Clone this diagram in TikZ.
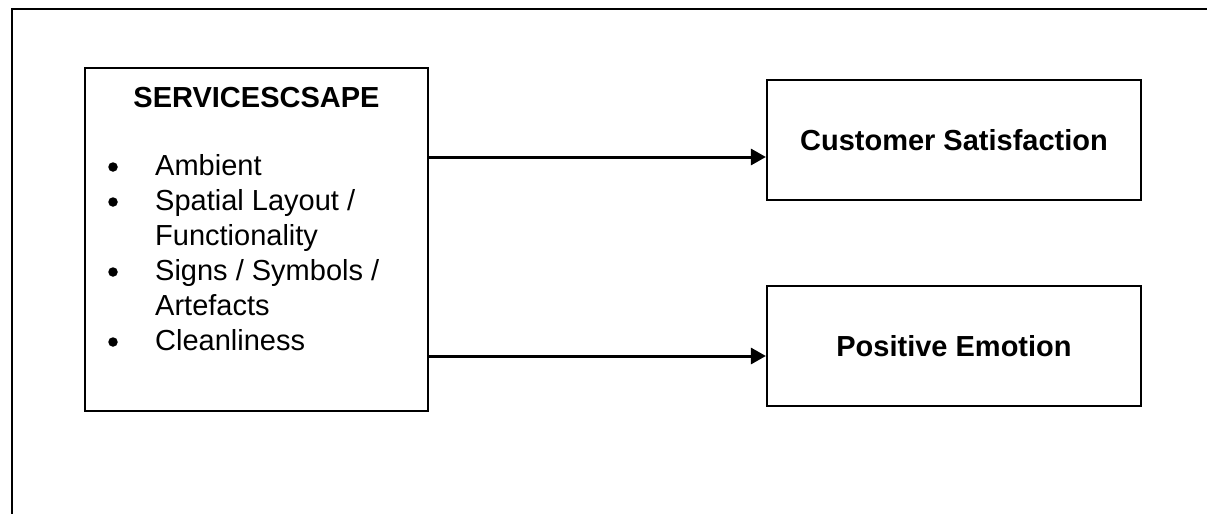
\documentclass[tikz,border=0pt]{standalone}
\usepackage{fontspec}
\setmainfont{Liberation Sans}
\usetikzlibrary{arrows.meta}
\begin{document}
\begin{tikzpicture}[x=1pt,y=-1pt,
  frame/.style={line width=2.4pt},
  boxstyle/.style={draw,line width=2.2pt,inner sep=0pt},
  conn/.style={line width=3pt,-{Triangle[length=15pt,width=16pt]}},
  txt/.style={font=\fontsize{29}{35}\selectfont,inner sep=0pt,anchor=base west},
  bul/.style={circle,fill,inner sep=0pt,minimum size=9.5pt}
]
\useasboundingbox (0,0) rectangle (1207,514);
% outer frame (top and left edges only)
\coordinate (ftr) at (1207,9);
\coordinate (ftl) at (12,9);
\coordinate (fbl) at (12,514);
\draw[frame] (ftr) -- (ftl) -- (fbl);

% left box
\node[boxstyle,minimum width=343pt,minimum height=343pt] (svc) at (256.5,239.5) {};
\node[font=\fontsize{29}{35}\selectfont\bfseries,inner sep=0pt,anchor=base] (svct) at (256.5,107) {SERVICESCSAPE};

\node[bul] (b1) at (113,167) {};
\node[txt] (t1) at (155,175) {Ambient};
\node[bul] (b2) at (113,202) {};
\node[txt] (t2) at (155,210) {Spatial Layout /};
\node[txt] (t2b) at (155,245) {Functionality};
\node[bul] (b3) at (113,272) {};
\node[txt] (t3) at (155,280) {Signs / Symbols /};
\node[txt] (t3b) at (155,315) {Artefacts};
\node[bul] (b4) at (113,342) {};
\node[txt] (t4) at (155,350) {Cleanliness};

% right boxes
\node[boxstyle,minimum width=374pt,minimum height=120pt,
      font=\fontsize{29}{35}\selectfont\bfseries] (cs) at (954,140) {Customer Satisfaction};
\node[boxstyle,minimum width=374pt,minimum height=120pt,
      font=\fontsize{29}{35}\selectfont\bfseries] (pe) at (954,346) {Positive Emotion};

% connectors
\draw[conn] ([yshift=-17pt]cs.west -| svc.east) -- ([yshift=-17pt]cs.west);
\draw[conn] ([yshift=-10pt]pe.west -| svc.east) -- ([yshift=-10pt]pe.west);
\end{tikzpicture}
\end{document}
